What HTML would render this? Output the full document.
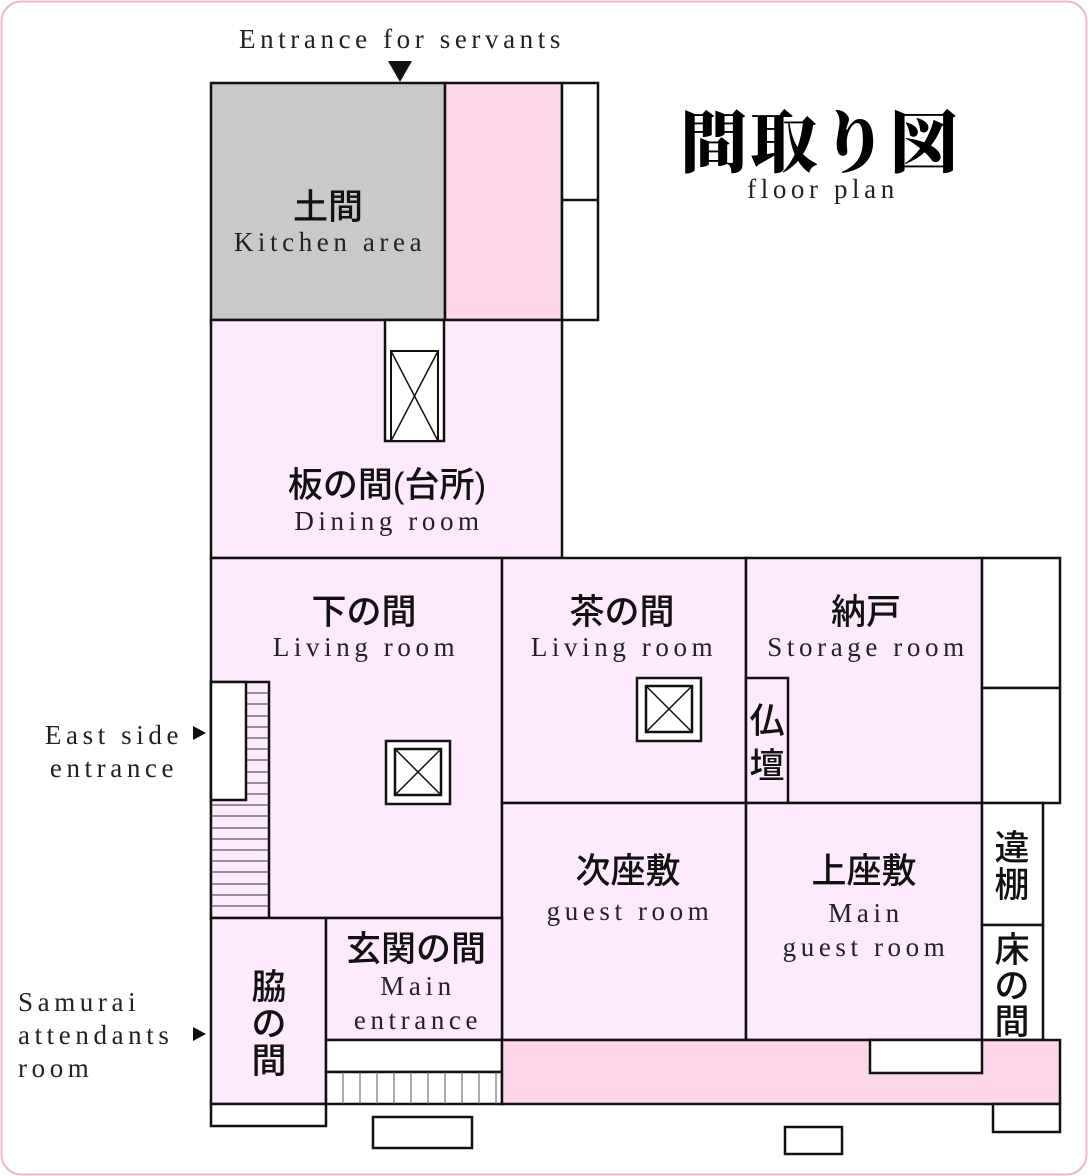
<!DOCTYPE html>
<html><head><meta charset="utf-8"><style>
html,body{margin:0;padding:0;background:#fff}
svg{display:block}
.e{font-family:"Liberation Serif","Noto Serif CJK JP",serif;font-size:27px;letter-spacing:4.6px;fill:#222;text-anchor:middle}
.j{font-family:"Liberation Sans","Noto Sans CJK JP",sans-serif;font-size:35px;font-weight:500;fill:#111;text-anchor:middle}
.s{stroke:#111;stroke-width:2.5}
</style></head><body>
<svg width="1088" height="1176" viewBox="0 0 1088 1176" xmlns="http://www.w3.org/2000/svg">
<rect x="1.5" y="1.5" width="1085" height="1173" rx="20" fill="#fff" stroke="#f2b8c0" stroke-width="2"/>
<g class="s">
<rect x="211" y="83" width="234" height="237" fill="#c9c9c9"/>
<rect x="445" y="83" width="117" height="237" fill="#fcd6e8"/>
<rect x="562" y="83" width="36" height="237" fill="#fff"/>
<line x1="562" y1="200" x2="598" y2="200"/>
<rect x="211" y="320" width="351" height="238" fill="#fdeafc"/>
<rect x="385" y="320" width="59" height="121" fill="#fff"/>
<rect x="391" y="351" width="47" height="90" fill="#fff" stroke-width="2"/>
<line x1="391" y1="351" x2="438" y2="441" stroke-width="1.5"/>
<line x1="438" y1="351" x2="391" y2="441" stroke-width="1.5"/>
<rect x="211" y="558" width="291" height="360" fill="#fdeafc"/>
<rect x="502" y="558" width="244" height="245" fill="#fdeafc"/>
<rect x="746" y="558" width="236" height="245" fill="#fdeafc"/>
<rect x="982" y="558" width="78" height="130" fill="#fff"/>
<rect x="982" y="688" width="78" height="115" fill="#fff"/>
<rect x="746" y="678" width="42" height="125" fill="#fdeafc"/>
<rect x="502" y="803" width="244" height="237" fill="#fdeafc"/>
<rect x="746" y="803" width="236" height="237" fill="#fdeafc"/>
<rect x="982" y="803" width="61" height="122" fill="#fff"/>
<rect x="982" y="925" width="61" height="115" fill="#fff"/>
<rect x="211" y="682" width="58" height="236" fill="#fdeafc"/>
</g>
<g stroke="#333" stroke-width="1">
<line x1="246" y1="693" x2="269" y2="693"/><line x1="246" y1="704" x2="269" y2="704"/><line x1="246" y1="716" x2="269" y2="716"/><line x1="246" y1="727" x2="269" y2="727"/><line x1="246" y1="738" x2="269" y2="738"/><line x1="246" y1="749" x2="269" y2="749"/><line x1="246" y1="760" x2="269" y2="760"/><line x1="246" y1="772" x2="269" y2="772"/><line x1="246" y1="783" x2="269" y2="783"/><line x1="246" y1="794" x2="269" y2="794"/>
<line x1="211" y1="805" x2="269" y2="805"/><line x1="211" y1="816" x2="269" y2="816"/><line x1="211" y1="828" x2="269" y2="828"/><line x1="211" y1="839" x2="269" y2="839"/><line x1="211" y1="850" x2="269" y2="850"/><line x1="211" y1="861" x2="269" y2="861"/><line x1="211" y1="872" x2="269" y2="872"/><line x1="211" y1="884" x2="269" y2="884"/><line x1="211" y1="895" x2="269" y2="895"/><line x1="211" y1="906" x2="269" y2="906"/>
</g>
<g class="s">
<rect x="211" y="682" width="35" height="118" fill="#fff"/>
<rect x="211" y="918" width="115" height="186" fill="#fdeafc"/>
<rect x="326" y="918" width="176" height="122" fill="#fdeafc"/>
<rect x="326" y="1040" width="176" height="32" fill="#fff"/>
<rect x="326" y="1072" width="176" height="32" fill="#fff"/>
<rect x="502" y="1040" width="558" height="64" fill="#fcd6e8"/>
<rect x="870" y="1040" width="112" height="33" fill="#fff"/>
<rect x="211" y="1104" width="115" height="22" fill="#fff"/>
<rect x="373" y="1117" width="99" height="31" fill="#fff"/>
<rect x="785" y="1127" width="57" height="27" fill="#fff"/>
<rect x="993" y="1104" width="67" height="28" fill="#fff"/>
</g>
<g stroke="#555" stroke-width="1">
<line x1="343" y1="1072" x2="343" y2="1104"/><line x1="360" y1="1072" x2="360" y2="1104"/><line x1="377" y1="1072" x2="377" y2="1104"/><line x1="394" y1="1072" x2="394" y2="1104"/><line x1="411" y1="1072" x2="411" y2="1104"/><line x1="428" y1="1072" x2="428" y2="1104"/><line x1="445" y1="1072" x2="445" y2="1104"/><line x1="462" y1="1072" x2="462" y2="1104"/><line x1="479" y1="1072" x2="479" y2="1104"/><line x1="496" y1="1072" x2="496" y2="1104"/>
</g>
<g class="s" stroke-width="2">
<rect x="386" y="741" width="64" height="63" fill="#fff"/>
<rect x="395" y="749" width="46" height="46" fill="#fff"/>
<line x1="395" y1="749" x2="441" y2="795" stroke-width="1.5"/><line x1="441" y1="749" x2="395" y2="795" stroke-width="1.5"/>
<rect x="637" y="678" width="64" height="63" fill="#fff"/>
<rect x="646" y="686" width="46" height="46" fill="#fff"/>
<line x1="646" y1="686" x2="692" y2="732" stroke-width="1.5"/><line x1="692" y1="686" x2="646" y2="732" stroke-width="1.5"/>
</g>
<polygon points="388,61 412,61 400,82" fill="#111"/>
<polygon points="193,726 206,733 193,740" fill="#111"/>
<polygon points="193,1027 206,1034 193,1041" fill="#111"/>
<text class="e" x="402" y="48">Entrance for servants</text>
<text x="820" y="167" style="font-family:'Noto Serif CJK JP','Noto Serif CJK SC',serif;font-size:68px;font-weight:900;fill:#000;text-anchor:middle;letter-spacing:2px">間取り図</text>
<text class="e" x="823" y="198">floor plan</text>
<text class="j" x="328" y="219">土間</text>
<text class="e" x="330" y="251">Kitchen area</text>
<text class="j" x="387" y="497">板の間(台所)</text>
<text class="e" x="389" y="530">Dining room</text>
<text class="j" x="364" y="624">下の間</text>
<text class="e" x="366" y="656">Living room</text>
<text class="j" x="622" y="624">茶の間</text>
<text class="e" x="624" y="656">Living room</text>
<text class="j" x="866" y="624">納戸</text>
<text class="e" x="868" y="656">Storage room</text>
<text class="j" x="767" y="733">仏</text>
<text class="j" x="767" y="778">壇</text>
<text class="j" x="628" y="883">次座敷</text>
<text class="e" x="630" y="920">guest room</text>
<text class="j" x="864" y="883">上座敷</text>
<text class="e" x="866" y="922">Main</text>
<text class="e" x="866" y="956">guest room</text>
<text class="j" x="1012" y="860">違</text>
<text class="j" x="1012" y="897">棚</text>
<text class="j" x="1012" y="962">床</text>
<text class="j" x="1012" y="998">の</text>
<text class="j" x="1012" y="1034">間</text>
<text class="j" x="416" y="961">玄関の間</text>
<text class="e" x="418" y="995">Main</text>
<text class="e" x="418" y="1029">entrance</text>
<text class="j" x="269" y="999">脇</text>
<text class="j" x="269" y="1036">の</text>
<text class="j" x="269" y="1073">間</text>
<text class="e" x="114" y="744">East side</text>
<text class="e" x="114" y="777">entrance</text>
<text class="e" x="18" y="1011" style="text-anchor:start">Samurai</text>
<text class="e" x="18" y="1044" style="text-anchor:start">attendants</text>
<text class="e" x="18" y="1077" style="text-anchor:start">room</text>
</svg>
</body></html>
